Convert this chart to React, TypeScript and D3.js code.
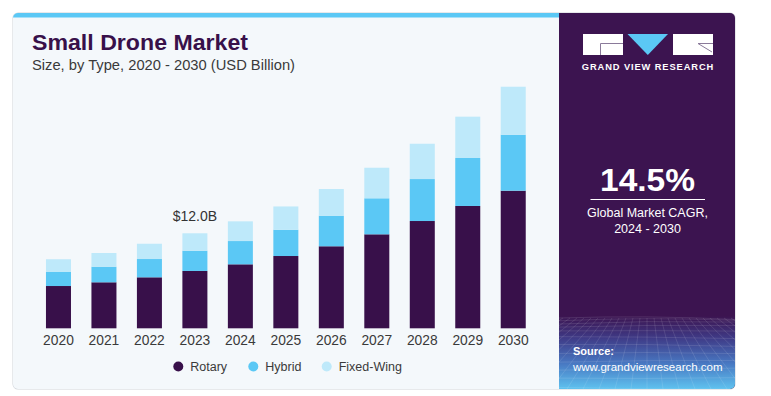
import React from 'react';
import * as d3 from 'd3';

const years = ['2020', '2021', '2022', '2023', '2024', '2025', '2026', '2027', '2028', '2029', '2030'];
const rotary = [5.34, 5.81, 6.44, 7.24, 8.08, 9.13, 10.36, 11.87, 13.55, 15.45, 17.38];
const hybrid = [1.81, 1.97, 2.31, 2.56, 2.94, 3.32, 3.86, 4.55, 5.3, 6.06, 7.07];
const fixedWing = [1.57, 1.73, 1.93, 2.2, 2.49, 2.94, 3.37, 3.86, 4.46, 5.22, 6.06];
const seriesNames = ['Rotary', 'Hybrid', 'Fixed-Wing'];
const seriesKeys = ['rotary', 'hybrid', 'fixedWing'];
const seriesColors = ['#38104a', '#5bc8f5', '#bee9fa'];
const annotationYear = '2023';
const annotationText = '$12.0B';

const FONT = '"Liberation Sans", Arial, sans-serif';

export default function App() {
  const W = 771;
  const H = 396;
  const table = years.map((y, i) => ({ year: y, rotary: rotary[i], hybrid: hybrid[i], fixedWing: fixedWing[i] }));
  const stacked = d3.stack<any>().keys(seriesKeys)(table);

  const x = d3.scaleBand<string>().domain(years).range([25.5, 546.2]).padding(0.45);
  const y = d3.scaleLinear().domain([0, 31]).range([328.3, 328.3 - 31 / 0.1263]);

  const annIdx = years.indexOf(annotationYear);
  const annTotal = rotary[annIdx] + hybrid[annIdx] + fixedWing[annIdx];

  const legendX = [178.3, 253.3, 326.7];

  // decorative mesh in the source area
  const meshTop = 318;
  const meshBottom = 389;
  const hLines = d3.range(0, 12).map((k) => meshTop + Math.pow(k / 11, 1.6) * (meshBottom - meshTop));
  const vLines = d3.range(-14, 15).map((k) => k);

  return (
    <div style={{ position: 'absolute', left: 0, top: 0 }}>
      <svg width={W} height={H} style={{ display: 'block' }}>
        <defs>
          <clipPath id="cardClip">
            <rect x={13} y={13} width={722} height={376} rx={5} ry={5} />
          </clipPath>
          <linearGradient id="srcGrad" x1="0" y1="0" x2="0" y2="1">
            <stop offset="0" stopColor="#3c1450" />
            <stop offset="0.3" stopColor="#3f3a86" />
            <stop offset="0.65" stopColor="#4878c2" />
            <stop offset="1" stopColor="#5fc2ef" />
          </linearGradient>
        </defs>
        <rect x={0} y={0} width={W} height={H} fill="#ffffff" />
        <rect x={12.5} y={12.5} width={723} height={377} rx={5.5} ry={5.5} fill="#cfd3d8" />
        <g clipPath="url(#cardClip)">
          <rect x={13} y={13} width={546} height={376} fill="#f4f8fb" />
          <rect x={13} y={13} width={546} height={4.5} fill="#5bc8f5" />
          <rect x={559} y={13} width={176} height={376} fill="#3c1450" />
          <rect x={559} y={meshTop - 2} width={176} height={meshBottom - meshTop + 2} fill="url(#srcGrad)" />
          <g stroke="#ffffff" strokeOpacity={0.16} strokeWidth={0.7} fill="none">
            {hLines.map((hy, i) => (
              <path key={'h' + i} d={`M559,${hy + Math.sin(i) * 1.5} Q647,${hy - 3 + i * 0.3} 735,${hy + Math.cos(i) * 1.5}`} />
            ))}
            {vLines.map((k) => (
              <line key={'v' + k} x1={647 + k * 7} y1={meshTop} x2={647 + k * 16} y2={meshBottom} />
            ))}
          </g>
        </g>

        {/* Title */}
        <text x={32} y={50} fontFamily={FONT} fontWeight={900} fontSize={21.5} fill="#38104a" textLength={216} lengthAdjust="spacingAndGlyphs">
          Small Drone Market
        </text>
        <text x={32} y={70} fontFamily={FONT} fontSize={14} fill="#3a3a3a" textLength={263} lengthAdjust="spacingAndGlyphs">
          Size, by Type, 2020 - 2030 (USD Billion)
        </text>

        {/* Bars */}
        {stacked.map((s, si) => (
          <g key={seriesKeys[si]} fill={seriesColors[si]}>
            {s.map((d: any) => (
              <rect
                key={d.data.year}
                x={x(d.data.year)}
                y={y(d[1])}
                width={x.bandwidth()}
                height={y(d[0]) - y(d[1])}
              />
            ))}
          </g>
        ))}

        {/* Annotation */}
        <text
          x={(x(annotationYear) as number) + x.bandwidth() / 2}
          y={y(annTotal) - 12.5}
          textAnchor="middle"
          fontFamily={FONT}
          fontSize={14}
          fill="#333333"
        >
          {annotationText}
        </text>

        {/* X axis labels */}
        {years.map((yr) => (
          <text
            key={yr}
            x={(x(yr) as number) + x.bandwidth() / 2}
            y={344.5}
            textAnchor="middle"
            fontFamily={FONT}
            fontSize={13.8}
            fill="#3a3a3a"
          >
            {yr}
          </text>
        ))}

        {/* Legend */}
        {seriesNames.map((n, i) => (
          <g key={n}>
            <circle cx={legendX[i]} cy={366.5} r={5} fill={seriesColors[i]} />
            <text x={legendX[i] + 12} y={371} fontFamily={FONT} fontSize={12.5} fill="#3a3a3a">
              {n}
            </text>
          </g>
        ))}

        {/* Logo */}
        <rect x={583} y={34} width={40} height={21} fill="#ffffff" />
        <path d="M600.5,55 V43.5 H623" stroke="#8a7a9a" strokeWidth={1} fill="none" />
        <polygon points="627.5,34 668,34 647.8,55" fill="#5bc8f5" />
        <rect x={673} y={34} width={40} height={21} fill="#ffffff" />
        <path d="M698,43.5 H713 M698,43.5 L712,52" stroke="#8a7a9a" strokeWidth={1} fill="none" />
        <text x={648} y={69.5} textAnchor="middle" fontFamily={FONT} fontWeight={700} fontSize={9.3} letterSpacing={0.9} fill="#ffffff">
          GRAND VIEW RESEARCH
        </text>

        {/* CAGR */}
        <text x={647.5} y={191} textAnchor="middle" fontFamily={FONT} fontWeight={700} fontSize={32} fill="#ffffff" textLength={95} lengthAdjust="spacingAndGlyphs">
          14.5%
        </text>
        <line x1={590.5} x2={705} y1={199.5} y2={199.5} stroke="#ffffff" strokeWidth={1} />
        <text x={647.5} y={216.5} textAnchor="middle" fontFamily={FONT} fontSize={12.5} fill="#ffffff">
          Global Market CAGR,
        </text>
        <text x={647.5} y={232.5} textAnchor="middle" fontFamily={FONT} fontSize={12.5} fill="#ffffff">
          2024 - 2030
        </text>

        {/* Source */}
        <text x={573} y={355} fontFamily={FONT} fontWeight={700} fontSize={11} fill="#ffffff">
          Source:
        </text>
        <text x={573} y={371} fontFamily={FONT} fontSize={11.5} fill="#ffffff">
          www.grandviewresearch.com
        </text>
      </svg>
    </div>
  );
}
